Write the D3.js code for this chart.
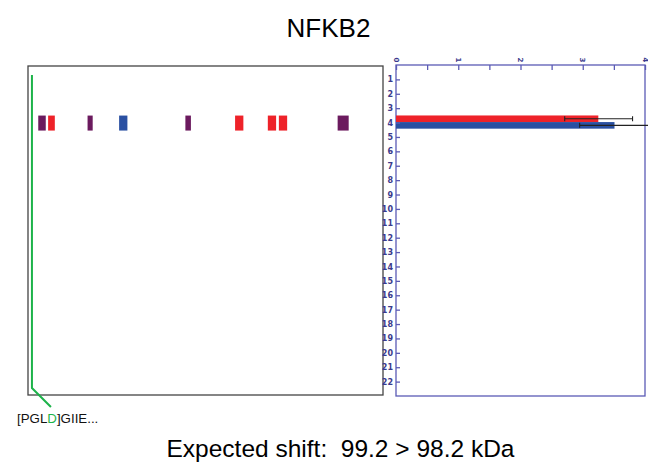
<!DOCTYPE html>
<html><head><meta charset="utf-8">
<script src="https://cdn.jsdelivr.net/npm/d3@7"></script>
<style>body{margin:0;background:#fff}svg{display:block}</style>
</head><body>
<script>
// ---- data ----
const title = "NFKB2";
const subtitle = "Expected shift:\u00a0\u00a099.2 > 98.2 kDa";
const seqLength = 900;
const cleavagePos = 10;
const cleavageLabel = ["[PGL", "D", "]GIIE..."];
const pepStart = [26, 51, 151, 231, 399, 525, 608, 636, 785];
const pepEnd   = [45, 68, 164, 252, 413, 546, 629, 657, 813];
const pepGroup = ["both", "s1", "both", "s2", "both", "s1", "s1", "s1", "both"];
const pepLane = [4, 4, 4, 4, 4, 4, 4, 4, 4];
const barLane = [4, 4];
const barSeries = ["s1", "s2"];
const barValue = [3.25, 3.51];
const errLow = [2.71, 2.95];
const errHigh = [3.80, 4.08];
const lanes = d3.range(1, 23);
const xTicks = [0, 1, 2, 3, 4];
const colors = {both: "#6b1a5e", s1: "#ee2229", s2: "#2a50a2"};

const W = 648, H = 463;
const svg = d3.select("body").append("svg").attr("width", W).attr("height", H);

svg.append("text").attr("x", 328.5).attr("y", 37).attr("text-anchor", "middle")
  .attr("font-family", "Liberation Sans, Arial, sans-serif").attr("font-size", 26).text(title);
svg.append("text").attr("x", 340.5).attr("y", 457).attr("text-anchor", "middle")
  .attr("font-family", "Liberation Sans, Arial, sans-serif").attr("font-size", 24.5).text(subtitle);

// ---- left panel ----
const L = {x0: 28, x1: 383, y0: 66, y1: 395};
const xs = d3.scaleLinear().domain([0, seqLength]).range([L.x0, L.x1]);
const ys = d3.scaleLinear().domain([0, 23]).range([65, 396]);
svg.append("rect").attr("x", L.x0).attr("y", L.y0).attr("width", L.x1 - L.x0).attr("height", L.y1 - L.y0)
  .attr("fill", "none").attr("stroke", "#444").attr("stroke-width", 1.3);

svg.selectAll("rect.pep").data(pepStart).join("rect").attr("class", "pep")
  .attr("x", (d, i) => xs(d)).attr("width", (d, i) => xs(pepEnd[i]) - xs(d))
  .attr("y", (d, i) => ys(pepLane[i]) - 7).attr("height", 15)
  .attr("fill", (d, i) => colors[pepGroup[i]]);

const cx = xs(cleavagePos);
svg.append("path").attr("d", `M${cx},75 L${cx},388 L${cx + 19},407`)
  .attr("fill", "none").attr("stroke", "#1db34a").attr("stroke-width", 2);
const lab = svg.append("text").attr("x", 17).attr("y", 423)
  .attr("font-family", "Liberation Sans, Arial, sans-serif").attr("font-size", 13.3);
cleavageLabel.forEach((t, i) => lab.append("tspan").attr("fill", i === 1 ? "#1db34a" : "#111").text(t));

// ---- right panel ----
const R = {x0: 396, x1: 645, y0: 65, y1: 396};
const bx = d3.scaleLinear().domain([0, 4]).range([R.x0, R.x1]);
const axisCol = "#5b5bb5";
svg.append("rect").attr("x", R.x0).attr("y", R.y0).attr("width", R.x1 - R.x0).attr("height", R.y1 - R.y0)
  .attr("fill", "none").attr("stroke", axisCol).attr("stroke-width", 1.3);

const bh = 6.6;
svg.selectAll("rect.bar").data(barValue).join("rect").attr("class", "bar")
  .attr("x", bx(0)).attr("width", d => bx(d) - bx(0))
  .attr("y", (d, i) => ys(barLane[i]) - bh + i * bh - 0.5).attr("height", bh)
  .attr("fill", (d, i) => colors[barSeries[i]]);
const eg = svg.append("g").attr("stroke", "#222").attr("stroke-width", 1.1);
barValue.forEach((v, i) => {
  const y = ys(barLane[i]) - bh / 2 + i * bh - 0.5;
  eg.append("line").attr("x1", bx(errLow[i])).attr("x2", bx(errHigh[i])).attr("y1", y).attr("y2", y);
  [errLow[i], errHigh[i]].forEach(e => eg.append("line").attr("x1", bx(e)).attr("x2", bx(e)).attr("y1", y - 2.5).attr("y2", y + 2.5));
});

// top axis
const topAxis = d3.axisTop(bx).tickValues(d3.range(0, 4.01, 0.5)).tickSize(-5).tickFormat("");
const tg = svg.append("g").attr("transform", `translate(0,${R.y0})`).call(topAxis);
tg.selectAll("line").attr("stroke", axisCol).attr("stroke-width", 1.3);
tg.select(".domain").remove();
svg.selectAll("text.xt").data(xTicks).join("text").attr("class", "xt")
  .attr("transform", d => `translate(${bx(d)},60) rotate(90)`)
  .attr("text-anchor", "middle").attr("dy", "0.35em")
  .attr("font-family", "DejaVu Sans, sans-serif").attr("font-size", 7).attr("font-weight", "bold")
  .attr("fill", "#3a3a8c").text(d => d);

// left axis
const leftAxis = d3.axisLeft(ys).tickValues(lanes).tickSize(-4).tickPadding(6);
const lg = svg.append("g").attr("transform", `translate(${R.x0},0)`).call(leftAxis);
lg.select(".domain").remove();
lg.selectAll("line").attr("stroke", axisCol).attr("stroke-width", 1.3);
lg.selectAll("text").attr("font-family", "DejaVu Sans, sans-serif").attr("font-size", 8)
  .attr("font-weight", "bold").attr("fill", "#3a3a8c").attr("x", -3);
</script>
</body></html>
